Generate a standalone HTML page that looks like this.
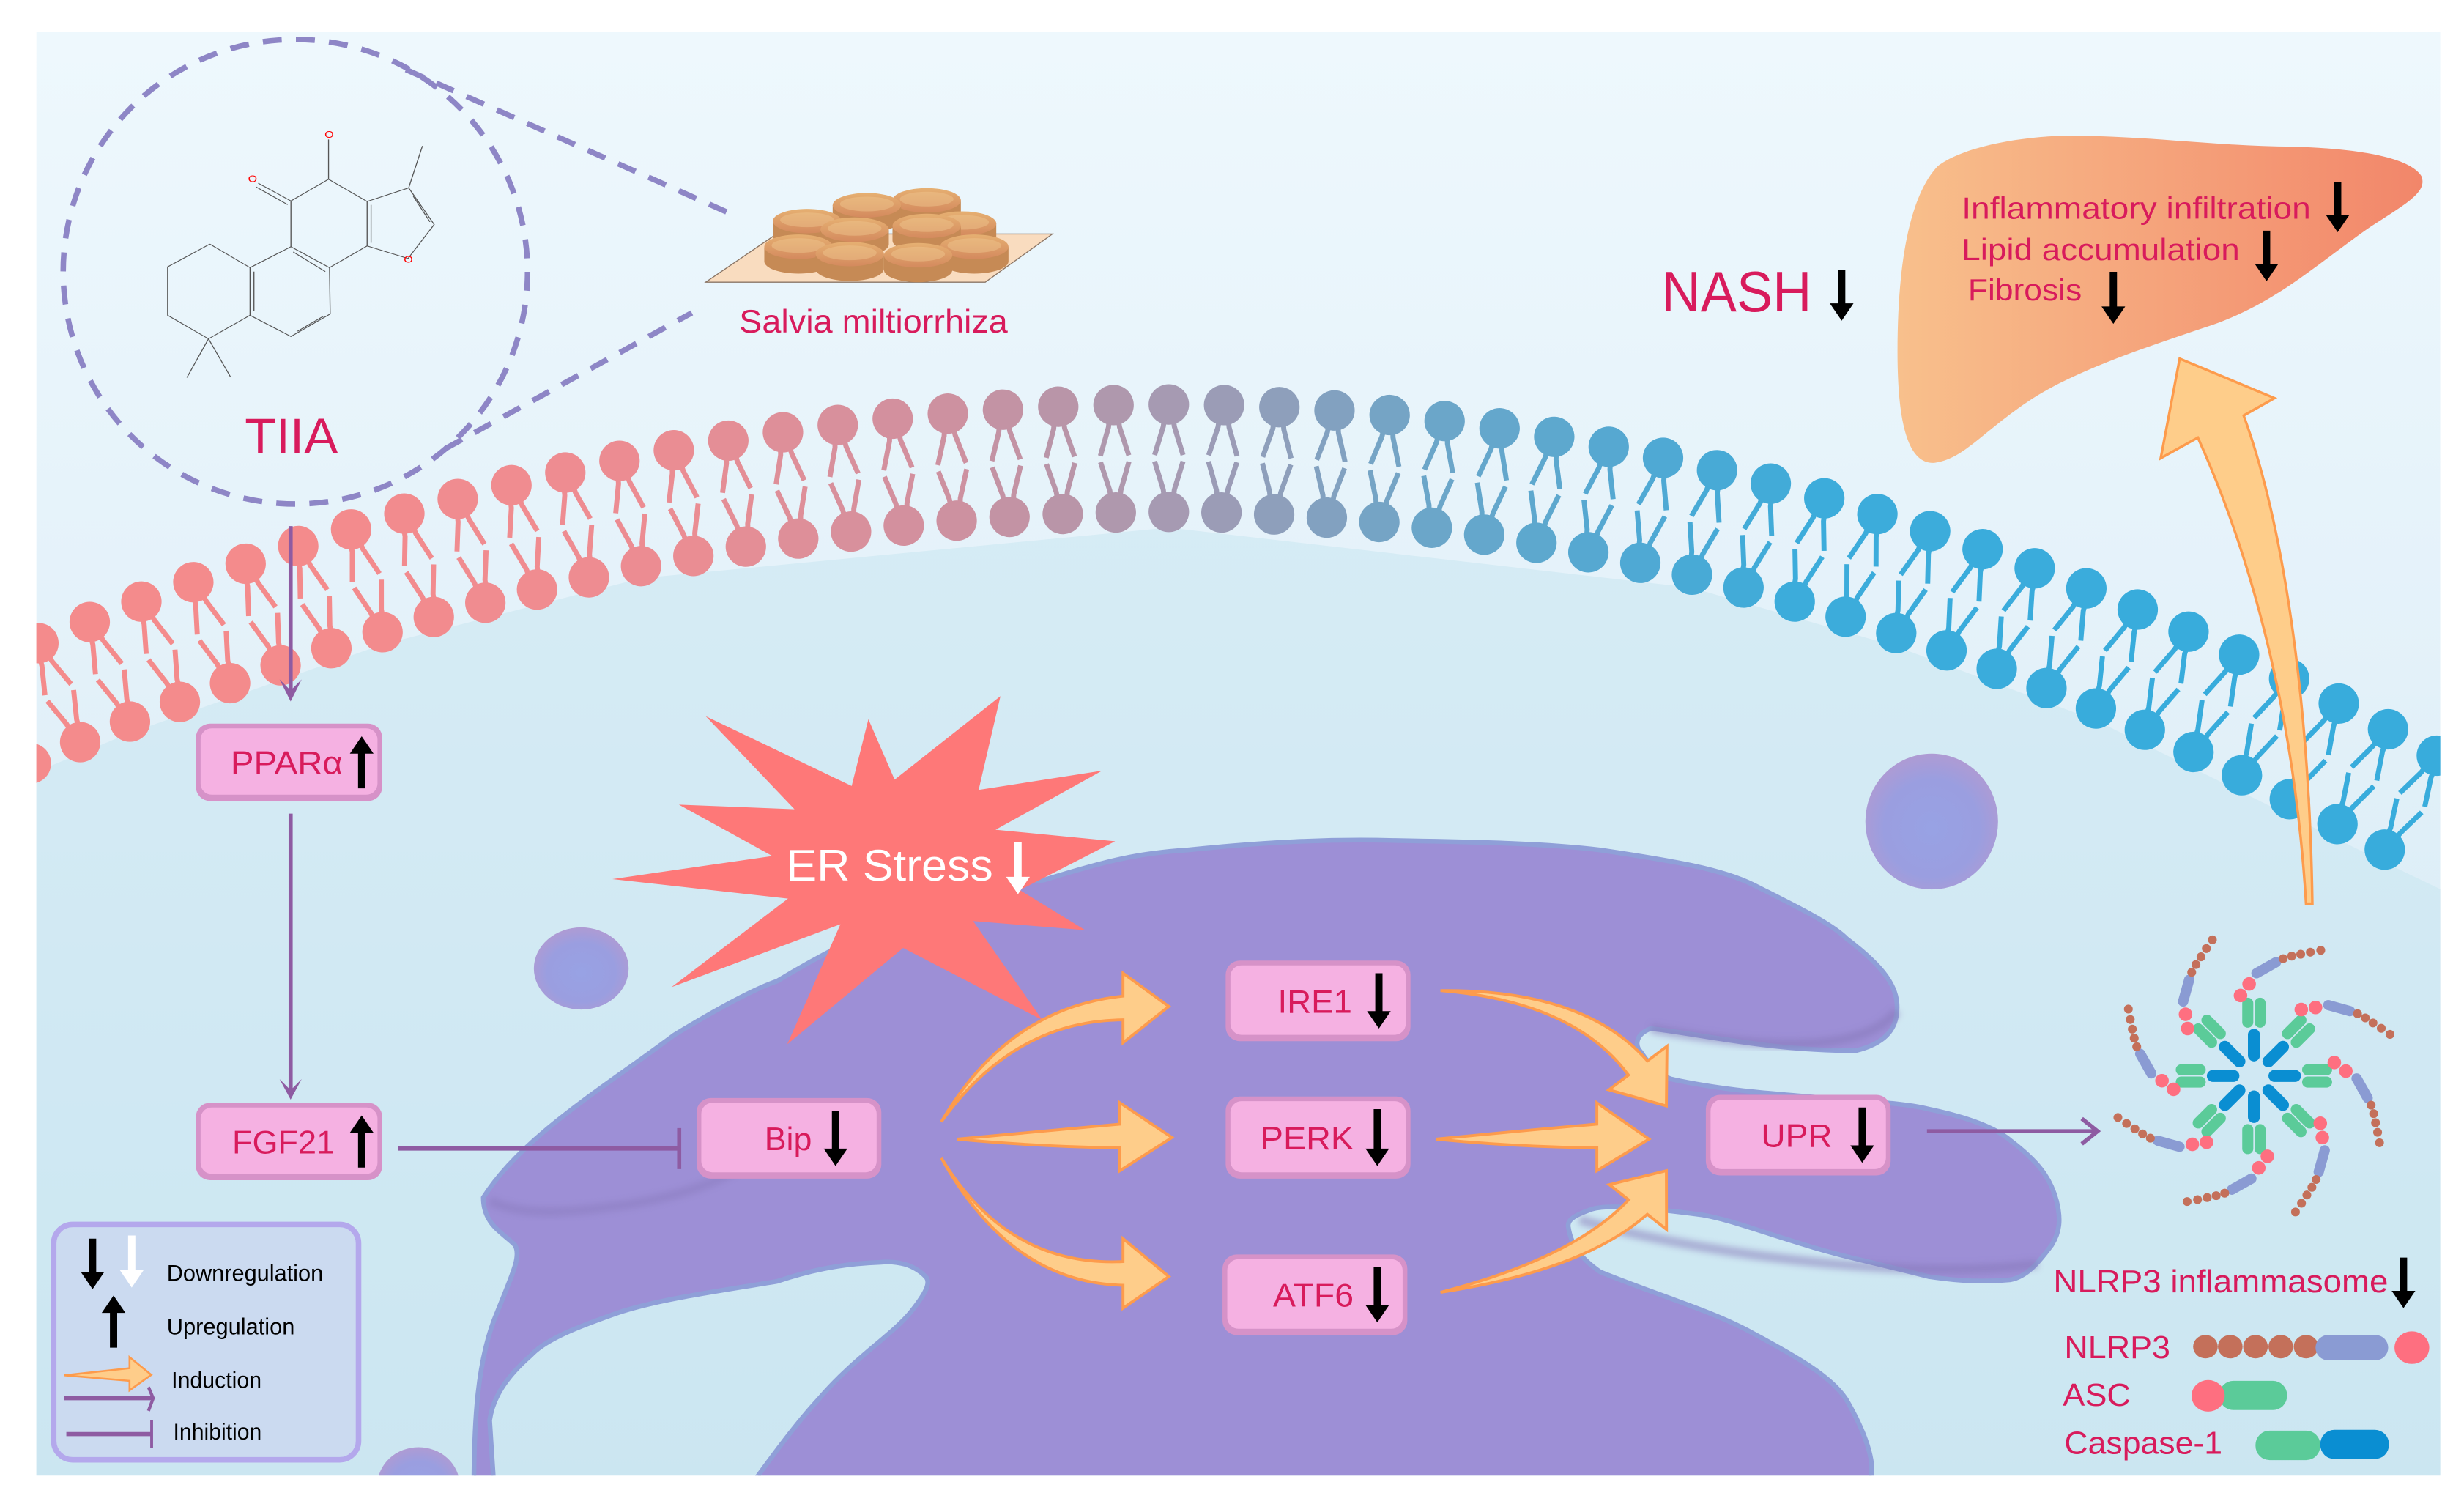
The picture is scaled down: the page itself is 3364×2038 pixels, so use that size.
<!DOCTYPE html>
<html><head><meta charset="utf-8">
<style>
html,body{margin:0;padding:0;background:#fff;}
svg{display:block;}
text{font-family:"Liberation Sans",Arial,sans-serif;}
</style></head>
<body>
<svg xmlns="http://www.w3.org/2000/svg" xmlns:xlink="http://www.w3.org/1999/xlink" width="3364" height="2038" viewBox="0 0 1560 945" preserveAspectRatio="none">
<defs>
<linearGradient id="bg" x1="0" y1="0" x2="0" y2="1">
<stop offset="0" stop-color="#eef8fd"/><stop offset="0.45" stop-color="#e3f1f9"/><stop offset="1" stop-color="#cfe7f2"/>
</linearGradient>
<linearGradient id="liver" x1="0" y1="0" x2="1" y2="0">
<stop offset="0" stop-color="#f8c08c"/><stop offset="1" stop-color="#f2866a"/>
</linearGradient>
<radialGradient id="blob" cx="0.5" cy="0.55" r="0.6">
<stop offset="0" stop-color="#98a2e4"/><stop offset="0.6" stop-color="#9a9ee0"/><stop offset="1" stop-color="#b49ad0"/>
</radialGradient>
<linearGradient id="tab" x1="0" y1="0" x2="0" y2="1">
<stop offset="0" stop-color="#e6b072"/><stop offset="1" stop-color="#d48a5e"/>
</linearGradient>
<clipPath id="panel"><rect x="23" y="20" width="1522" height="914"/></clipPath>
<filter id="sh" x="-20%" y="-20%" width="140%" height="140%"><feGaussianBlur stdDeviation="2"/></filter>
<g id="lip">
<g fill="none" stroke="currentColor" stroke-width="3.2" stroke-linejoin="round">
<polyline points="-3,10 -3.5,14 -9,32"/><polyline points="3,10 3.5,14 9,32"/>
<polyline points="-3,58 -3.5,54 -9,36"/><polyline points="3,58 3.5,54 9,36"/>
</g>
<ellipse cx="0" cy="0" rx="12.8" ry="12.8" fill="currentColor"/>
<ellipse cx="0" cy="68" rx="12.8" ry="12.8" fill="currentColor"/>
</g>
<g id="tb">
<path d="M-140 0 L-140 60 A140 50 0 0 0 140 60 L140 0 Z" fill="#c68a55"/>
<ellipse cx="0" cy="0" rx="140" ry="50" fill="url(#tab)"/>
<ellipse cx="0" cy="-5" rx="110" ry="30" fill="#f0c890" opacity="0.45"/>
</g>
<g id="arm">
<line x1="0" y1="-13" x2="0" y2="-26" stroke="#0a8ed2" stroke-width="7.6" stroke-linecap="round"/>
<line x1="-3.9" y1="-34" x2="-3.9" y2="-46" stroke="#5bcb99" stroke-width="7" stroke-linecap="round"/>
<line x1="3.9" y1="-34" x2="3.9" y2="-46" stroke="#5bcb99" stroke-width="7" stroke-linecap="round"/>
<circle cx="-8.5" cy="-50.9" r="4.3" fill="#fe6f80"/>
<circle cx="-3.05" cy="-58.2" r="4.3" fill="#fe6f80"/>
<line x1="1.6" y1="-65" x2="14" y2="-72" stroke="#8a9bd3" stroke-width="6.5" stroke-linecap="round"/>
<g fill="#c4705a">
<circle cx="18.5" cy="-74.2" r="2.8"/><circle cx="23.9" cy="-75.8" r="2.8"/><circle cx="29.6" cy="-77" r="2.8"/><circle cx="35.7" cy="-78.3" r="2.8"/><circle cx="42.3" cy="-79.5" r="2.8"/>
</g>
</g>
</defs>
<rect x="0" y="0" width="1560" height="945" fill="#fff"/>
<g clip-path="url(#panel)">
<rect x="23" y="20" width="1522" height="914" fill="url(#bg)"/>
<path d="M0 500 L19.5 490 L82 464 L242 408 L406 366 L740 334 L1071 372 L1200 409 L1327 456 L1510 546 L1560 570 L1560 945 L0 945 Z" fill="#c9e6f1" opacity="0.55"/>

<!-- membrane -->
<g>
<use href="#lip" xlink:href="#lip" transform="translate(-7.9 421) rotate(-23.8)" style="color:#f48b8c"/>
<use href="#lip" xlink:href="#lip" transform="translate(24.3 407.1) rotate(-22.9)" style="color:#f48b8c"/>
<use href="#lip" xlink:href="#lip" transform="translate(56.8 393.7) rotate(-22)" style="color:#f48b8c"/>
<use href="#lip" xlink:href="#lip" transform="translate(89.5 380.8) rotate(-21)" style="color:#f48b8c"/>
<use href="#lip" xlink:href="#lip" transform="translate(122.4 368.5) rotate(-20)" style="color:#f48b8c"/>
<use href="#lip" xlink:href="#lip" transform="translate(155.5 356.8) rotate(-19)" style="color:#f48b8c"/>
<use href="#lip" xlink:href="#lip" transform="translate(188.8 345.6) rotate(-18)" style="color:#f48b8c"/>
<use href="#lip" xlink:href="#lip" transform="translate(222.3 335.1) rotate(-17)" style="color:#f38b8d"/>
<use href="#lip" xlink:href="#lip" transform="translate(256 325.1) rotate(-15.9)" style="color:#f28b8e"/>
<use href="#lip" xlink:href="#lip" transform="translate(289.8 315.8) rotate(-14.9)" style="color:#f08c90"/>
<use href="#lip" xlink:href="#lip" transform="translate(323.8 307.1) rotate(-13.8)" style="color:#f08c90"/>
<use href="#lip" xlink:href="#lip" transform="translate(357.9 299.1) rotate(-12.7)" style="color:#ee8c91"/>
<use href="#lip" xlink:href="#lip" transform="translate(392.2 291.7) rotate(-11.6)" style="color:#ec8c92"/>
<use href="#lip" xlink:href="#lip" transform="translate(426.6 285) rotate(-10.5)" style="color:#ea8d93"/>
<use href="#lip" xlink:href="#lip" transform="translate(461.1 278.9) rotate(-9.4)" style="color:#e48e96"/>
<use href="#lip" xlink:href="#lip" transform="translate(495.7 273.6) rotate(-8.2)" style="color:#de8f99"/>
<use href="#lip" xlink:href="#lip" transform="translate(530.4 269) rotate(-7.1)" style="color:#d8909c"/>
<use href="#lip" xlink:href="#lip" transform="translate(565.2 265) rotate(-5.9)" style="color:#d3909e"/>
<use href="#lip" xlink:href="#lip" transform="translate(600.1 261.8) rotate(-4.7)" style="color:#cd91a0"/>
<use href="#lip" xlink:href="#lip" transform="translate(635 259.3) rotate(-3.5)" style="color:#c393a4"/>
<use href="#lip" xlink:href="#lip" transform="translate(670 257.4) rotate(-2.4)" style="color:#b995a8"/>
<use href="#lip" xlink:href="#lip" transform="translate(705 256.4) rotate(-1.2)" style="color:#af98ad"/>
<use href="#lip" xlink:href="#lip" transform="translate(740 256) rotate(0)" style="color:#a69ab2"/>
<use href="#lip" xlink:href="#lip" transform="translate(775 256.4) rotate(1.4)" style="color:#9b9cb6"/>
<use href="#lip" xlink:href="#lip" transform="translate(810 257.7) rotate(2.8)" style="color:#8e9fbb"/>
<use href="#lip" xlink:href="#lip" transform="translate(844.9 259.8) rotate(4.1)" style="color:#82a1c0"/>
<use href="#lip" xlink:href="#lip" transform="translate(879.8 262.7) rotate(5.5)" style="color:#75a4c5"/>
<use href="#lip" xlink:href="#lip" transform="translate(914.6 266.5) rotate(6.8)" style="color:#6ba6c9"/>
<use href="#lip" xlink:href="#lip" transform="translate(949.4 271.1) rotate(8.2)" style="color:#64a7cc"/>
<use href="#lip" xlink:href="#lip" transform="translate(984 276.5) rotate(9.5)" style="color:#5da8ce"/>
<use href="#lip" xlink:href="#lip" transform="translate(1018.5 282.8) rotate(10.9)" style="color:#56a8d1"/>
<use href="#lip" xlink:href="#lip" transform="translate(1052.9 289.8) rotate(12.2)" style="color:#4fa9d4"/>
<use href="#lip" xlink:href="#lip" transform="translate(1087.1 297.6) rotate(13.5)" style="color:#48aad6"/>
<use href="#lip" xlink:href="#lip" transform="translate(1121.1 306.1) rotate(14.7)" style="color:#42abd8"/>
<use href="#lip" xlink:href="#lip" transform="translate(1155 315.4) rotate(16)" style="color:#3cacdb"/>
<use href="#lip" xlink:href="#lip" transform="translate(1188.6 325.4) rotate(17.2)" style="color:#3cacdb"/>
<use href="#lip" xlink:href="#lip" transform="translate(1222 336.2) rotate(18.4)" style="color:#3cacdb"/>
<use href="#lip" xlink:href="#lip" transform="translate(1255.2 347.6) rotate(19.6)" style="color:#3aacdc"/>
<use href="#lip" xlink:href="#lip" transform="translate(1288.2 359.7) rotate(20.7)" style="color:#3aacdc"/>
<use href="#lip" xlink:href="#lip" transform="translate(1320.9 372.4) rotate(21.8)" style="color:#3aacdc"/>
<use href="#lip" xlink:href="#lip" transform="translate(1353.4 385.8) rotate(22.9)" style="color:#38acdc"/>
<use href="#lip" xlink:href="#lip" transform="translate(1385.6 399.8) rotate(24)" style="color:#38acdc"/>
<use href="#lip" xlink:href="#lip" transform="translate(1417.6 414.4) rotate(25.1)" style="color:#38acdc"/>
<use href="#lip" xlink:href="#lip" transform="translate(1449.3 429.6) rotate(26.1)" style="color:#38acdc"/>
<use href="#lip" xlink:href="#lip" transform="translate(1480.7 445.3) rotate(27.1)" style="color:#38acdc"/>
<use href="#lip" xlink:href="#lip" transform="translate(1511.9 461.6) rotate(28.1)" style="color:#38acdc"/>
<use href="#lip" xlink:href="#lip" transform="translate(1542.8 478.3) rotate(29)" style="color:#38acdc"/>
</g>

<!-- blobs -->
<ellipse cx="1223" cy="520" rx="42" ry="43" fill="url(#blob)"/>
<ellipse cx="368" cy="613" rx="30" ry="26" fill="url(#blob)"/>
<ellipse cx="265" cy="940" rx="26" ry="24" fill="url(#blob)"/>

<!-- ER -->
<path d="M306 758 C330 720,380 690,427 655 C460 635,480 625,492 621 C560 580,620 560,661 557 C700 545,720 540,752 538 C800 533,840 531,882 532 C940 533,980 534,1013 538 C1060 545,1090 550,1110 560 C1140 575,1160 585,1169 594 C1190 610,1200 622,1201 635 C1202 650,1195 660,1175 665 C1120 665,1080 655,1045 651 C1035 655,1035 662,1039 666 C1045 675,1050 680,1058 683 C1090 690,1120 692,1143 694 C1180 697,1205 698,1221 702 C1250 708,1265 715,1273 722 C1290 735,1298 745,1302 760 C1305 772,1304 780,1299 788 C1290 800,1283 808,1273 810 C1250 812,1235 810,1221 808 C1190 800,1165 795,1143 788 C1110 778,1095 772,1078 769 C1040 764,1015 762,1006 766 C995 770,992 773,993 777 C995 790,1003 798,1013 805 C1050 820,1085 830,1110 844 C1140 860,1160 872,1169 886 C1180 905,1184 918,1185 927 L1185 945 L472 945 C490 920,505 900,518 886 C540 860,565 845,577 830 C585 820,590 812,586 808 C578 800,568 798,557 799 C530 800,510 805,492 811 C450 818,420 822,394 830 C365 840,345 848,336 858 C320 872,312 885,310 899 L313 945 L300 945 C300 900,302 860,315 830 C325 805,330 795,326 788 C318 780,306 775,306 758 Z" fill="#9d8fd6" stroke="#8f9fd8" stroke-width="3"/>
<path d="M310 760 C330 770,360 768,400 762 C440 755,460 745,470 738" fill="none" stroke="#8577b8" stroke-width="6" opacity="0.4" filter="url(#sh)"/>
<path d="M1045 651 C1120 665,1180 666,1201 640" fill="none" stroke="#8577b8" stroke-width="6" opacity="0.5" filter="url(#sh)"/>
<path d="M1000 772 C1060 790,1200 812,1290 800" fill="none" stroke="#8577b8" stroke-width="6" opacity="0.5" filter="url(#sh)"/>

<!-- starburst -->
<polygon points="446.8,453.3 539.2,497.5 549.8,455.2 566.4,493.5 633.4,440.6 619.6,500 697.8,487.8 630.3,525.2 706,532.5 645.7,563.4 687.1,588.7 616.1,583 659.9,645.6 571.8,600 498.4,661 532.1,585 425.1,624.8 498.9,568.8 387.7,556.4 489,541.8 429.8,509.3 503,512.2" fill="#fe7878"/>
<text x="497.7" y="557.4" font-size="28" fill="#fff" textLength="131" lengthAdjust="spacingAndGlyphs">ER Stress</text>

<!-- orange arrows -->
<g fill="#fecd8a" stroke="#fd9b4c" stroke-width="1.8">
<path d="M596 710 Q642 646 711 645.5 L711 660 L740 637 L711 616 L711 630.5 Q638 638 596 710 Z"/>
<path d="M606 721 Q660 726 709 726.5 L709 741 L742 720 L709 698 L709 711.5 Q660 716 606 721 Z"/>
<path d="M596 733 Q638 802 711 798.5 L711 784 L740 808 L711 828 L711 813.5 Q640 812 596 733 Z"/>
<path d="M912 627 Q997 634 1031 680.5 L1018.6 689.8 L1055 700 L1055.4 662.2 L1043 671.5 Q1003 626 912 627 Z"/>
<path d="M909 721 Q960 726 1011 726.5 L1011 741 L1044 721 L1011 698 L1011 711.5 Q960 716 909 721 Z"/>
<path d="M912 818 Q1003 804 1042.9 768.6 L1055.1 778.2 L1055 741 L1018.9 749.8 L1031.1 759.4 Q997 796 912 818 Z"/>
</g>

<!-- dashed circle & lines -->
<circle cx="187" cy="172" r="147" fill="none" stroke="#8e86c6" stroke-width="3.5" stroke-dasharray="12,9"/>
<line x1="257" y1="44" x2="462" y2="135" stroke="#8e86c6" stroke-width="3.5" stroke-dasharray="12,9"/>
<line x1="282" y1="284" x2="438" y2="198" stroke="#8e86c6" stroke-width="3.5" stroke-dasharray="12,9"/>

<!-- molecule -->
<g transform="translate(27.83,27.83) scale(0.2071,0.1656)" fill="none" stroke="#555" stroke-width="3">
<polyline points="507,765 378,852 378,1037 503,1127 630,1037 630,855 507,765"/>
<polyline points="630,855 755,775 873,855 875,1032 755,1118 630,1037"/>
<line x1="642" y1="870" x2="642" y2="1020"/><line x1="762" y1="795" x2="860" y2="870"/><line x1="775" y1="1098" x2="855" y2="1040"/>
<polyline points="755,775 755,600 870,517 988,602 988,772 873,855"/>
<line x1="1000" y1="615" x2="1000" y2="760"/>
<polyline points="988,602 1115,550 1193,690 1113,820 988,772"/>
<line x1="1128" y1="580" x2="1180" y2="680"/>
<line x1="1115" y1="550" x2="1157" y2="390"/>
<line x1="870" y1="517" x2="870" y2="365"/>
<line x1="755" y1="600" x2="655" y2="532"/><line x1="745" y1="614" x2="648" y2="546"/>
<line x1="503" y1="1127" x2="437" y2="1275"/><line x1="503" y1="1127" x2="570" y2="1272"/>
<text x="858" y="358" font-size="36" fill="#f00" stroke="none">O</text>
<text x="624" y="528" font-size="36" fill="#f00" stroke="none">O</text>
<text x="1100" y="836" font-size="36" fill="#f00" stroke="none">O</text>
</g>
<text x="155" y="287" font-size="32" fill="#d81b5c" textLength="59" lengthAdjust="spacingAndGlyphs">TIIA</text>

<!-- salvia -->
<g transform="translate(440.6,106.7) scale(0.1546)">
<polygon points="40,465 330,268 1460,268 1185,465" fill="#f9dcbf" stroke="#8a7565" stroke-width="4"/>
<use href="#tb" xlink:href="#tb" transform="translate(945 130)"/>
<use href="#tb" xlink:href="#tb" transform="translate(700 150)"/>
<use href="#tb" xlink:href="#tb" transform="translate(455 215)"/>
<use href="#tb" xlink:href="#tb" transform="translate(1090 225)"/>
<use href="#tb" xlink:href="#tb" transform="translate(945 235)"/>
<use href="#tb" xlink:href="#tb" transform="translate(650 250)"/>
<use href="#tb" xlink:href="#tb" transform="translate(420 320)"/>
<use href="#tb" xlink:href="#tb" transform="translate(1140 320)"/>
<use href="#tb" xlink:href="#tb" transform="translate(630 350)"/>
<use href="#tb" xlink:href="#tb" transform="translate(910 355)"/>
</g>
<text x="468" y="210.5" font-size="20.5" fill="#d81b5c" textLength="170" lengthAdjust="spacingAndGlyphs">Salvia miltiorrhiza</text>

<!-- NASH -->
<text x="1052" y="197" font-size="36" fill="#d81b5c" textLength="95" lengthAdjust="spacingAndGlyphs">NASH</text>

<!-- liver -->
<g transform="translate(1196.7,83.5) scale(0.2319,0.1546)">
<path d="M130 140 C200 60,350 20,480 15 C700 15,900 60,1100 60 C1300 70,1420 110,1450 180 C1470 250,1400 300,1300 400 C1150 560,1050 700,880 790 C700 880,500 980,380 1100 C250 1230,200 1340,120 1355 C50 1360,20 1200,20 900 C20 500,60 250,130 140 Z" fill="url(#liver)"/>
</g>
<text x="1242" y="138.4" font-size="19.5" fill="#d81b5c" textLength="221" lengthAdjust="spacingAndGlyphs">Inflammatory infiltration</text>
<text x="1242" y="164.7" font-size="19.5" fill="#d81b5c" textLength="176" lengthAdjust="spacingAndGlyphs">Lipid accumulation</text>
<text x="1246" y="190.2" font-size="19.5" fill="#d81b5c" textLength="72" lengthAdjust="spacingAndGlyphs">Fibrosis</text>

<!-- big arrow -->
<path d="M1380 227 L1440 252 L1420.5 263 C1445 330,1462 440,1464 572 L1460 572 C1452 440,1420 340,1391.5 277 L1368 290 Z" fill="#fecd8a" stroke="#fd9b4c" stroke-width="1.6"/>

<!-- purple connectors -->
<g stroke="#8e5ba2" stroke-width="2.6" fill="none">
<line x1="184" y1="333" x2="184" y2="438"/>
<line x1="184" y1="515" x2="184" y2="690"/>
<line x1="252" y1="727" x2="430" y2="727"/>
<line x1="430" y1="714" x2="430" y2="740"/>
<line x1="1220" y1="716" x2="1326" y2="716"/>
</g>
<path d="M177 430 L184 437 L191 430 L184 444 Z" fill="#8e5ba2"/>
<path d="M177 683 L184 690 L191 683 L184 696 Z" fill="#8e5ba2"/>
<path d="M1318 708 L1328 716 L1318 724" fill="none" stroke="#8e5ba2" stroke-width="2.6"/>

<!-- boxes -->
<g>
<rect x="124" y="458" width="118" height="49" rx="9" fill="#d692c8"/><rect x="127" y="461" width="112" height="42" rx="7" fill="#f5b1e2"/>
<text x="146" y="490" font-size="20.5" fill="#d81b5c" textLength="71" lengthAdjust="spacingAndGlyphs">PPARα</text>
<rect x="124" y="698" width="118" height="49" rx="9" fill="#d692c8"/><rect x="127" y="701" width="112" height="42" rx="7" fill="#f5b1e2"/>
<text x="147" y="730" font-size="20.5" fill="#d81b5c" textLength="65" lengthAdjust="spacingAndGlyphs">FGF21</text>
<rect x="441" y="695" width="117" height="51" rx="9" fill="#d692c8"/><rect x="444" y="698" width="111" height="44" rx="7" fill="#f5b1e2"/>
<text x="484" y="728" font-size="20.5" fill="#d81b5c" textLength="30" lengthAdjust="spacingAndGlyphs">Bip</text>
<rect x="776" y="608" width="117" height="51" rx="9" fill="#d692c8"/><rect x="779" y="611" width="111" height="44" rx="7" fill="#f5b1e2"/>
<text x="809" y="641" font-size="20.5" fill="#d81b5c" textLength="47" lengthAdjust="spacingAndGlyphs">IRE1</text>
<rect x="776" y="694" width="117" height="52" rx="9" fill="#d692c8"/><rect x="779" y="697" width="111" height="45" rx="7" fill="#f5b1e2"/>
<text x="798" y="727.5" font-size="20.5" fill="#d81b5c" textLength="59" lengthAdjust="spacingAndGlyphs">PERK</text>
<rect x="774" y="794" width="117" height="51" rx="9" fill="#d692c8"/><rect x="777" y="797" width="111" height="44" rx="7" fill="#f5b1e2"/>
<text x="806" y="827" font-size="20.5" fill="#d81b5c" textLength="51" lengthAdjust="spacingAndGlyphs">ATF6</text>
<rect x="1080" y="693" width="117" height="51" rx="9" fill="#d692c8"/><rect x="1083" y="696" width="111" height="44" rx="7" fill="#f5b1e2"/>
<text x="1115" y="726" font-size="20.5" fill="#d81b5c" textLength="45" lengthAdjust="spacingAndGlyphs">UPR</text>
</g>

<!-- black/white arrows -->
<g fill="#000">
<path d="M226.7 499 L231.3 499 L231.3 477 L236.5 477 L229 466 L221.5 477 L226.7 477 Z"/>
<path d="M226.7 739 L231.3 739 L231.3 717 L236.5 717 L229 706 L221.5 717 L226.7 717 Z"/>
<path d="M526.7 703 L531.3 703 L531.3 727 L536.5 727 L529 738 L521.5 727 L526.7 727 Z"/>
<path d="M870.7 616 L875.3 616 L875.3 640 L880.5 640 L873 651 L865.5 640 L870.7 640 Z"/>
<path d="M869.7 702 L874.3 702 L874.3 727 L879.5 727 L872 738 L864.5 727 L869.7 727 Z"/>
<path d="M869.7 802 L874.3 802 L874.3 826 L879.5 826 L872 837 L864.5 826 L869.7 826 Z"/>
<path d="M1176.7 701 L1181.3 701 L1181.3 725 L1186.5 725 L1179 736 L1171.5 725 L1176.7 725 Z"/>
<path d="M1163.7 171 L1168.3 171 L1168.3 192 L1173.5 192 L1166 203 L1158.5 192 L1163.7 192 Z"/>
<path d="M1477.7 115 L1482.3 115 L1482.3 136 L1487.5 136 L1480 147 L1472.5 136 L1477.7 136 Z"/>
<path d="M1432.7 146 L1437.3 146 L1437.3 167 L1442.5 167 L1435 178 L1427.5 167 L1432.7 167 Z"/>
<path d="M1335.7 172 L1340.3 172 L1340.3 194 L1345.5 194 L1338 205 L1330.5 194 L1335.7 194 Z"/>
<path d="M1519.4 796 L1524 796 L1524 817 L1529.2 817 L1521.7 828 L1514.2 817 L1519.4 817 Z"/>
</g>
<path d="M642.2 533 L646.8 533 L646.8 555 L652 555 L644.5 566 L637 555 L642.2 555 Z" fill="#fff"/>

<!-- inflammasome -->
<g>
<use href="#arm" xlink:href="#arm" transform="translate(1427 681) rotate(0)"/>
<use href="#arm" xlink:href="#arm" transform="translate(1427 681) rotate(45)"/>
<use href="#arm" xlink:href="#arm" transform="translate(1427 681) rotate(90)"/>
<use href="#arm" xlink:href="#arm" transform="translate(1427 681) rotate(135)"/>
<use href="#arm" xlink:href="#arm" transform="translate(1427 681) rotate(180)"/>
<use href="#arm" xlink:href="#arm" transform="translate(1427 681) rotate(225)"/>
<use href="#arm" xlink:href="#arm" transform="translate(1427 681) rotate(270)"/>
<use href="#arm" xlink:href="#arm" transform="translate(1427 681) rotate(315)"/>
</g>

<!-- legend bottom right -->
<text x="1300" y="818" font-size="20.4" fill="#d81b5c" textLength="212" lengthAdjust="spacingAndGlyphs">NLRP3 inflammasome</text>
<text x="1307" y="859.6" font-size="20.4" fill="#d81b5c" textLength="67" lengthAdjust="spacingAndGlyphs">NLRP3</text>
<text x="1306" y="889.8" font-size="20.4" fill="#d81b5c" textLength="43" lengthAdjust="spacingAndGlyphs">ASC</text>
<text x="1307" y="920.2" font-size="20.4" fill="#d81b5c" textLength="100" lengthAdjust="spacingAndGlyphs">Caspase-1</text>
<g fill="#c4705a">
<ellipse cx="1396.3" cy="852.4" rx="7.8" ry="7.4"/><ellipse cx="1412" cy="852.4" rx="7.8" ry="7.4"/><ellipse cx="1428" cy="852.4" rx="7.8" ry="7.4"/><ellipse cx="1444" cy="852.4" rx="7.8" ry="7.4"/><ellipse cx="1460" cy="852.4" rx="7.8" ry="7.4"/>
</g>
<rect x="1466" y="845" width="46" height="16" rx="8" fill="#8a9bd3"/>
<ellipse cx="1527" cy="853" rx="11" ry="10.3" fill="#fe6f80"/>
<rect x="1405" y="874" width="43" height="18.5" rx="9" fill="#5bcb99"/>
<ellipse cx="1398" cy="883.5" rx="10.5" ry="10" fill="#fe6f80"/>
<rect x="1428" y="905.5" width="41" height="18.7" rx="9" fill="#5bcb99"/>
<rect x="1469" y="905" width="43.5" height="18.5" rx="9" fill="#0a8ed2"/>

<!-- legend box -->
<rect x="34" y="775" width="193" height="149" rx="12" fill="#cbdaf0" stroke="#b4a8ec" stroke-width="3.5"/>
<text x="105.6" y="810.8" font-size="14.5" fill="#000" textLength="99" lengthAdjust="spacingAndGlyphs">Downregulation</text>
<text x="105.6" y="844.7" font-size="14.5" fill="#000" textLength="81" lengthAdjust="spacingAndGlyphs">Upregulation</text>
<text x="108.6" y="878.5" font-size="14.5" fill="#000" textLength="57" lengthAdjust="spacingAndGlyphs">Induction</text>
<text x="109.7" y="911.1" font-size="14.5" fill="#000" textLength="56" lengthAdjust="spacingAndGlyphs">Inhibition</text>
<path d="M40.8 870.5 L82 866 L82 859 L95.8 870.2 L82 880 L82 874 Z" fill="#fecd8a" stroke="#fd9b4c" stroke-width="1.2"/>
<line x1="40.8" y1="885" x2="96" y2="885" stroke="#8e5ba2" stroke-width="2.6"/>
<path d="M94 878 L97 885 L94 893" fill="none" stroke="#8e5ba2" stroke-width="2"/>
<line x1="42" y1="907.7" x2="96" y2="907.7" stroke="#8e5ba2" stroke-width="2.6"/>
<line x1="96" y1="899" x2="96" y2="916.7" stroke="#8e5ba2" stroke-width="1.8"/>
<path d="M56.3 784 L60.9 784 L60.9 805 L66.1 805 L58.6 816 L51.1 805 L56.3 805 Z" fill="#000"/>
<path d="M81.1 782 L85.7 782 L85.7 804 L90.9 804 L83.4 815 L75.9 804 L81.1 804 Z" fill="#fff"/>
<path d="M69.6 853 L74.2 853 L74.2 831 L79.4 831 L71.9 820 L64.4 831 L69.6 831 Z" fill="#000"/>
</g>
</svg>
</body></html>
